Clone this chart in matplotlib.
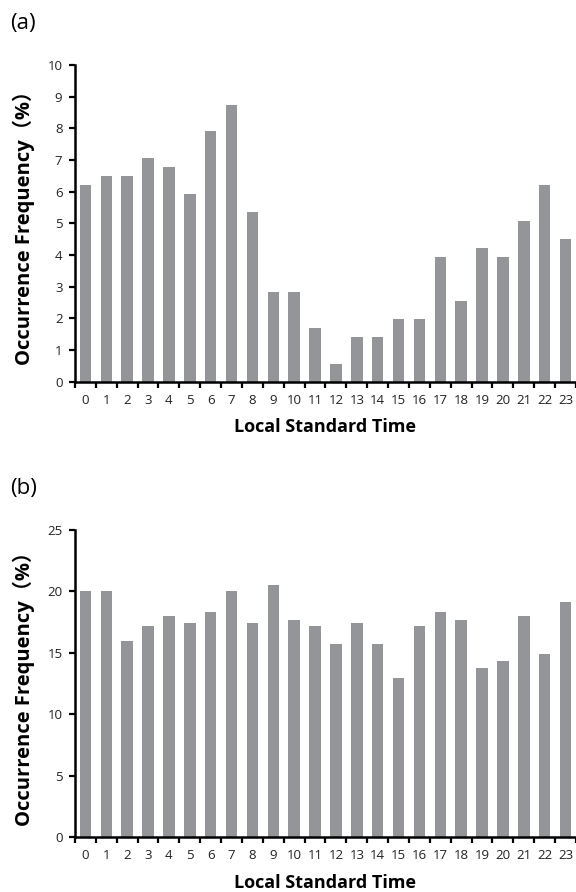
import matplotlib
matplotlib.use("Agg")
import matplotlib.pyplot as plt
from matplotlib.ticker import MultipleLocator, FixedLocator

plt.rcParams['font.family'] = ['Open Sans', 'Noto Sans CJK SC', 'DejaVu Sans']

hours = list(range(24))
freq_a = [6.2, 6.5, 6.5, 7.05, 6.78, 5.93, 7.9, 8.73, 5.36, 2.82, 2.82, 1.69,
          0.56, 1.41, 1.41, 1.97, 1.97, 3.94, 2.55, 4.23, 3.94, 5.07, 6.2, 4.51]
freq_b = [20.0, 20.0, 16.0, 17.2, 18.0, 17.4, 18.3, 20.0, 17.4, 20.55, 17.7, 17.2,
          15.75, 17.4, 15.75, 12.95, 17.2, 18.3, 17.7, 13.8, 14.35, 18.0, 14.9, 19.1]

panels = [
    ("(a)", freq_a, 10, 1, [0.1302, 0.5723, 0.8698, 0.3548]),
    ("(b)", freq_b, 25, 5, [0.1302, 0.0617, 0.8698, 0.3441]),
]

bar_color = "#939598"

fig = plt.figure(figsize=(5.76, 8.92), dpi=100)

for tag, vals, ymax, ystep, rect in panels:
    ax = fig.add_axes(rect)
    ax.bar(hours, vals, width=0.55, color=bar_color)
    ax.set_xlim(-0.5, 23.5)
    ax.set_ylim(0, ymax)
    ax.yaxis.set_major_locator(MultipleLocator(ystep))

    # labels on the hours, tick marks between the bars
    ax.set_xticks(hours)
    ax.set_xticklabels([str(h) for h in hours])
    ax.xaxis.set_minor_locator(FixedLocator([h - 0.5 for h in range(25)]))
    ax.tick_params(axis='x', which='major', length=0, pad=9, labelsize=9.5, colors='#222222')
    ax.tick_params(axis='x', which='minor', length=4, width=1.6, direction='out', color='black')
    ax.tick_params(axis='y', which='major', length=4, width=1.6, direction='out', pad=5,
                   labelsize=9.5, colors='#222222')
    ax.tick_params(axis='y', colors='black', labelcolor='#222222')

    for side in ('top', 'right'):
        ax.spines[side].set_visible(False)
    for side in ('left', 'bottom'):
        ax.spines[side].set_linewidth(1.8)
        ax.spines[side].set_color('black')

    ax.set_xlabel("Local Standard Time", fontsize=13, fontweight='bold', labelpad=8)
    ax.set_ylabel("Occurrence Frequency（%）", fontsize=14.5, fontweight='bold', labelpad=9)

    top_px = (1 - rect[1] - rect[3]) * 892
    fig.text(10 / 576, 1 - (top_px - 42) / 892, tag, fontsize=16, va='center', ha='left')

fig.savefig("out.png", dpi=100)
